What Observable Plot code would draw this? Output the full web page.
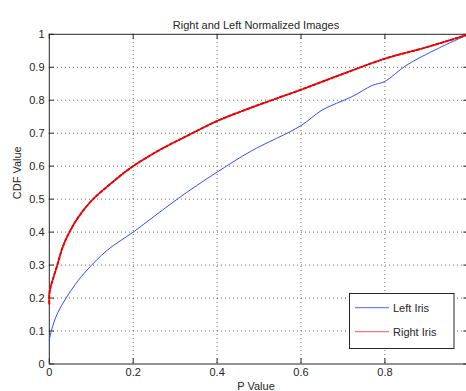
<!DOCTYPE html>
<html><head><meta charset="utf-8">
<script src="https://cdn.jsdelivr.net/npm/d3@7"></script>
<script src="https://cdn.jsdelivr.net/npm/@observablehq/plot@0.6"></script>
<style>body{margin:0;background:#fff}#chart{width:466px;height:391px;overflow:hidden}</style>
</head><body><div id="chart"></div>
<script>
const title = "Right and Left Normalized Images";
const xLabel = "P Value";
const yLabel = "CDF Value";
const seriesNames = ["Left Iris", "Right Iris"];
const seriesColors = ["#2f4cff", "#ff1f1f"];

const leftX = [0, 0.0045, 0.02, 0.04, 0.064, 0.09, 0.138, 0.2, 0.25, 0.305, 0.35, 0.4, 0.48, 0.6, 0.65, 0.72, 0.77, 0.8, 0.85, 0.925, 1.0];
const leftY = [0.071, 0.1, 0.155, 0.2, 0.245, 0.285, 0.345, 0.4, 0.448, 0.5, 0.54, 0.582, 0.645, 0.723, 0.77, 0.81, 0.845, 0.857, 0.905, 0.956, 1.0];

const rightX = [0, 0, 0.003, 0.008, 0.019, 0.032, 0.048, 0.07, 0.102, 0.154, 0.194, 0.26, 0.333, 0.4, 0.48, 0.6, 0.7, 0.8, 0.9, 1.0];
const rightY = [0.183, 0.21, 0.233, 0.255, 0.3, 0.355, 0.4, 0.447, 0.497, 0.555, 0.595, 0.647, 0.695, 0.737, 0.777, 0.832, 0.88, 0.926, 0.961, 1.0];

const xTicks = [0, 0.2, 0.4, 0.6, 0.8, 1];
const xTickLabels = ["0", "0.2", "0.4", "0.6", "0.8", "1"];
const yTicks = [0, 0.1, 0.2, 0.3, 0.4, 0.5, 0.6, 0.7, 0.8, 0.9, 1];
const yTickLabels = ["0", "0.1", "0.2", "0.3", "0.4", "0.5", "0.6", "0.7", "0.8", "0.9", "1"];

const left = leftX.map((x, i) => ({x, y: leftY[i]}));
const right = rightX.map((x, i) => ({x, y: rightY[i]}));
const xGrid = xTicks.slice(1, -1);
const yGrid = yTicks.slice(1, -1);
const axisColor = "#262626";

const plot = Plot.plot({
  width: 466, height: 391,
  marginLeft: 49, marginRight: 0, marginTop: 34, marginBottom: 27.5,
  x: {domain: [0, 1], range: [48.8, 468.3]},
  y: {domain: [0, 1], range: [363.5, 33.8]},
  style: {fontFamily: "'Liberation Sans', Arial, Helvetica, sans-serif", fontSize: "11px", color: axisColor, background: "#fff"},
  marks: [
    Plot.ruleX(xGrid, {stroke: "#444", strokeOpacity: 0.8, strokeDasharray: "1,3"}),
    Plot.ruleY(yGrid, {stroke: "#444", strokeOpacity: 0.8, strokeDasharray: "1,3"}),
    Plot.ruleX(xTicks, {y1: 0, y2: 0.016, stroke: axisColor}),
    Plot.ruleX(xTicks, {y1: 0.984, y2: 1, stroke: axisColor}),
    Plot.ruleY(yTicks, {x1: 0, x2: 0.012, stroke: axisColor}),
    Plot.ruleY(yTicks, {x1: 0.988, x2: 1, stroke: axisColor}),
    Plot.ruleX([0, 1], {stroke: axisColor}),
    Plot.ruleY([0, 1], {stroke: axisColor}),
    Plot.line(left, {x: "x", y: "y", stroke: seriesColors[0], strokeWidth: 1, curve: "catmull-rom"}),
    Plot.line(right, {x: "x", y: "y", stroke: "#ff4040", strokeWidth: 1.2, curve: "catmull-rom"}),
    Plot.line(right, {x: "x", y: "y", stroke: "#e80000", strokeWidth: 2, strokeDasharray: "3,2", curve: "catmull-rom"}),
    Plot.axisX(xTicks, {anchor: "bottom", tickSize: 0, tickPadding: 4, label: null, tickFormat: d => xTickLabels[xTicks.indexOf(d)]}),
    Plot.axisY(yTicks, {anchor: "left", tickSize: 0, tickPadding: 5, label: null, tickFormat: d => yTickLabels[yTicks.indexOf(d)]}),
    Plot.text([title], {frameAnchor: "top", dy: -13, dx: -2, fontSize: 11, fill: axisColor}),
    Plot.text([xLabel], {frameAnchor: "bottom", dy: 26, dx: -2, fontSize: 11, fill: axisColor}),
    Plot.text([yLabel], {frameAnchor: "left", dx: -32, rotate: -90, fontSize: 11, fill: axisColor})
  ]
});
document.getElementById("chart").appendChild(plot);

// legend box (MATLAB style, lower right inside axes)
const svg = d3.select(plot);
const lg = svg.append("g").attr("font-family", "'Liberation Sans', Arial, sans-serif").attr("font-size", 11).attr("text-anchor", "start");
lg.append("rect").attr("x", 349.5).attr("y", 293.5).attr("width", 104.5).attr("height", 55)
  .attr("fill", "#fff").attr("stroke", axisColor);
seriesNames.forEach((name, i) => {
  const yy = 307.7 + i * 24;
  lg.append("line").attr("x1", 355).attr("x2", 389).attr("y1", yy).attr("y2", yy)
    .attr("stroke", i === 0 ? "#4a66ff" : "#ff5050").attr("stroke-width", 1);
  lg.append("text").attr("x", 393).attr("y", yy).attr("dy", "0.35em").attr("text-anchor", "start").attr("fill", axisColor).text(name);
});
</script></body></html>
